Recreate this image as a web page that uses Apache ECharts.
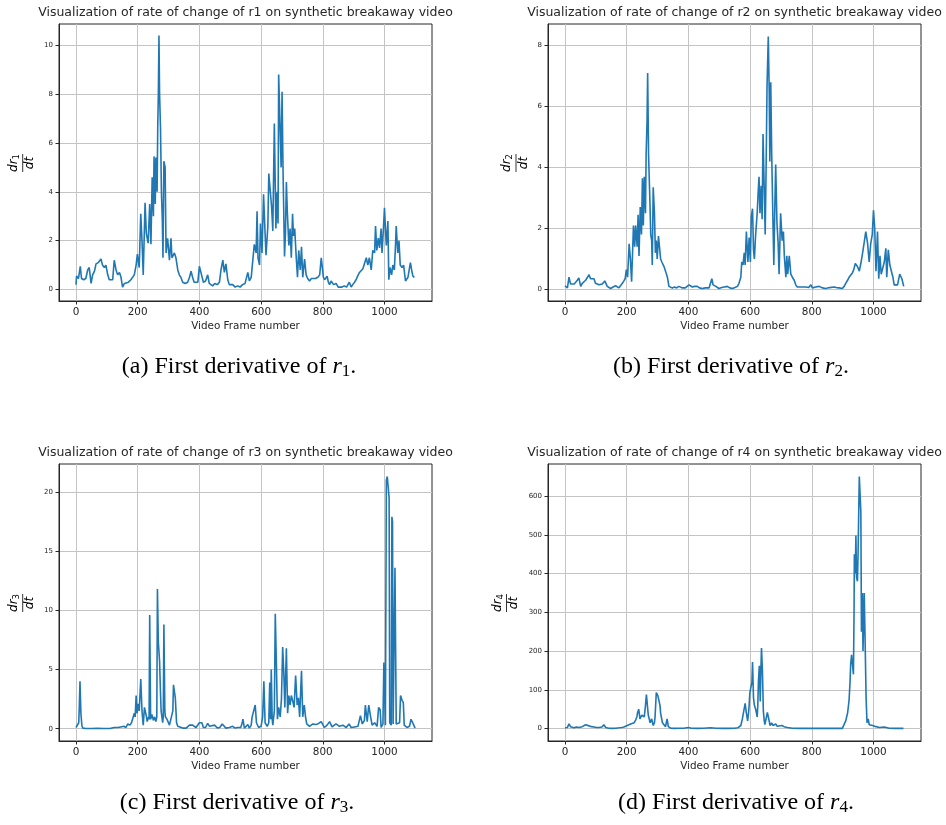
<!DOCTYPE html>
<html>
<head>
<meta charset="utf-8">
<script src="https://cdn.jsdelivr.net/npm/echarts@6/dist/echarts.min.js"></script>
<style>
  html, body { margin: 0; padding: 0; background: #fff; }
  #chart { width: 946px; height: 825px; }
</style>
</head>
<body>
<div id="chart"></div>
<script>
// tick labels
const xTicks = [0, 200, 400, 600, 800, 1000]
const r1Ticks = [0, 2, 4, 6, 8, 10]
const r2Ticks = [0, 2, 4, 6, 8]
const r3Ticks = [0, 5, 10, 15, 20]
const r4Ticks = [0, 100, 200, 300, 400, 500, 600]

// dr1/dt
const r1Frames = [
  0, 2, 8, 12, 14, 18, 25, 32, 38, 43,
  49, 54, 60, 65, 72, 81, 86, 92, 97, 103,
  108, 114, 119, 124, 130, 135, 141, 146, 151, 157,
  162, 170, 178, 184, 189, 195, 199, 205, 210, 214,
  218, 224, 228, 234, 239, 243, 247, 251, 253, 257,
  259, 263, 265, 267, 269, 271, 274, 277, 280, 282,
  285, 289, 292, 297, 303, 308, 311, 315, 319, 324,
  330, 335, 340, 346, 354, 362, 368, 373, 378, 383,
  389, 395, 400, 405, 413, 420, 427, 432, 438, 443,
  450, 458, 465, 470, 476, 481, 486, 492, 497, 503,
  508, 516, 524, 532, 540, 548, 553, 557, 562, 568,
  573, 578, 584, 587, 590, 595, 598, 603, 608, 613,
  616, 622, 625, 630, 634, 638, 643, 648, 652, 655,
  657, 662, 665, 668, 671, 676, 679, 682, 685, 690,
  694, 698, 702, 705, 709, 714, 718, 722, 727, 731,
  735, 741, 746, 751, 757, 763, 768, 776, 784, 790,
  795, 802, 806, 811, 814, 818, 822, 827, 835, 843,
  850, 856, 862, 870, 877, 886, 892, 897, 903, 908,
  913, 919, 925, 930, 936, 941, 946, 951, 957, 962,
  968, 971, 975, 980, 984, 989, 992, 997, 1000, 1003,
  1006, 1011, 1014, 1018, 1023, 1027, 1032, 1036, 1038, 1043,
  1047, 1051, 1057, 1062, 1068, 1076, 1084, 1088, 1092, 1097
]
const r1Values = [
  0.2, 0.55, 0.45, 0.5, 0.95, 0.45, 0.4, 0.45, 0.8, 0.9,
  0.25, 0.6, 0.75, 1.05, 1.1, 1.25, 1.0, 0.9, 1.0, 0.6,
  0.4, 0.35, 0.4, 1.2, 0.8, 0.6, 0.7, 0.5, 0.1, 0.25,
  0.2, 0.3, 0.4, 0.45, 0.6, 1.0, 1.45, 0.9, 3.1, 2.0,
  0.6, 3.55, 2.3, 1.9, 3.5, 1.85, 4.6, 3.0, 5.45, 3.5,
  5.4, 4.0, 6.6, 8.0, 10.4, 8.0, 6.6, 4.0, 2.8, 1.3,
  5.25, 5.0, 1.5, 2.1, 1.2, 2.1, 1.3, 1.4, 1.5, 1.3,
  0.8, 0.6, 0.5, 0.3, 0.25, 0.3, 0.5, 0.75, 0.5, 0.3,
  0.25, 0.3, 0.95, 0.7, 0.3, 0.35, 0.6, 0.25, 0.2, 0.15,
  0.25, 0.2, 0.3, 0.8, 1.2, 0.7, 1.05, 0.4, 0.2, 0.15,
  0.2, 0.1, 0.15, 0.1, 0.2, 0.25, 0.3, 0.7, 0.35, 0.5,
  0.45, 1.85, 1.5, 3.2, 1.3, 1.0, 2.7, 1.5, 3.9, 2.3,
  1.4, 2.6, 4.75, 4.75, 3.4, 2.4, 6.8, 2.5, 4.0, 2.7,
  8.8, 8.8, 5.0, 8.1, 5.0, 1.35, 2.3, 4.4, 3.2, 1.8,
  2.5, 1.3, 3.1, 2.2, 2.5, 1.3, 0.5, 1.6, 0.8, 1.75,
  0.5, 1.25, 0.6, 0.45, 0.35, 0.45, 0.5, 0.45, 0.5, 0.6,
  1.3, 0.5, 0.4, 0.35, 0.55, 0.3, 0.2, 0.35, 0.2, 0.25,
  0.1, 0.15, 0.1, 0.15, 0.1, 0.3, 0.1, 0.2, 0.3, 0.4,
  0.55, 0.7, 0.75, 0.85, 0.9, 1.3, 1.0, 1.3, 0.8, 1.6,
  1.5, 2.6, 1.6, 2.1, 1.7, 2.5, 1.5, 2.6, 3.35, 2.5,
  1.8, 2.8, 0.4, 0.9, 0.6, 1.0, 0.8, 1.9, 2.6, 1.5,
  2.0, 1.0, 0.9, 1.0, 0.35, 0.5, 1.1, 0.8, 0.55, 0.5
]

// dr2/dt
const r2Frames = [
  0, 2, 8, 13, 18, 24, 30, 35, 40, 45,
  51, 56, 62, 67, 72, 78, 83, 89, 94, 99,
  105, 110, 116, 121, 129, 137, 142, 148, 156, 164,
  170, 175, 180, 186, 191, 195, 199, 203, 208, 212,
  216, 222, 226, 229, 234, 237, 240, 244, 248, 251,
  254, 257, 261, 263, 266, 268, 271, 275, 278, 281,
  283, 286, 290, 293, 296, 299, 303, 307, 310, 314,
  321, 326, 332, 337, 342, 348, 355, 362, 369, 375,
  381, 390, 396, 402, 408, 413, 420, 429, 436, 445,
  455, 467, 472, 476, 480, 485, 489, 494, 499, 508,
  517, 526, 534, 543, 551, 559, 564, 570, 573, 577,
  581, 584, 588, 593, 597, 601, 604, 608, 611, 614,
  618, 623, 626, 629, 632, 636, 639, 642, 645, 649,
  652, 655, 659, 662, 664, 667, 670, 674, 677, 680,
  683, 687, 691, 694, 699, 704, 708, 711, 716, 719,
  722, 727, 732, 737, 743, 748, 753, 759, 770, 781,
  790, 797, 802, 813, 824, 835, 845, 858, 872, 880,
  889, 899, 905, 910, 916, 921, 927, 932, 936, 941,
  948, 954, 959, 964, 970, 975, 981, 986, 991, 996,
  1000, 1004, 1008, 1013, 1017, 1021, 1025, 1030, 1035, 1040,
  1043, 1048, 1053, 1059, 1063, 1067, 1073, 1078, 1085, 1092, 1098
]
const r2Values = [
  0.12, 0.1, 0.05, 0.4, 0.18, 0.2, 0.18, 0.2, 0.3, 0.38,
  0.1, 0.2, 0.22, 0.3, 0.35, 0.48, 0.35, 0.3, 0.35, 0.2,
  0.15, 0.15, 0.2, 0.18, 0.28, 0.1, 0.05, 0.03, 0.08, 0.12,
  0.08, 0.05, 0.12, 0.2, 0.28, 0.35, 0.65, 0.4, 1.5, 1.0,
  0.25, 2.1, 1.4, 2.1, 1.4, 2.45, 1.1, 2.7, 1.8, 3.65,
  2.1, 3.7, 2.5, 4.4, 5.5, 7.1, 4.4, 3.0, 1.8, 1.6,
  0.8, 3.35, 2.5, 1.2, 1.6, 1.0, 1.75, 1.75, 1.0, 0.9,
  0.75, 0.6, 0.4, 0.1, 0.05, 0.05, 0.08, 0.05, 0.1, 0.15,
  0.05, 0.05, 0.1, 0.15, 0.12, 0.08, 0.1, 0.1, 0.05, 0.03,
  0.05, 0.05, 0.1, 0.35, 0.15, 0.12, 0.1, 0.05, 0.03, 0.06,
  0.08, 0.1, 0.05, 0.03, 0.06, 0.1, 0.2, 0.4, 0.9, 0.8,
  1.2, 0.8, 1.9, 0.9, 1.7, 0.9, 2.4, 2.65, 1.3, 1.0,
  1.8, 2.5, 3.15, 3.7, 2.5, 3.4, 2.3, 5.1, 5.15, 1.8,
  4.0, 6.7, 8.3, 6.5, 4.2, 6.8, 4.5, 2.3, 0.8, 2.6,
  4.1, 2.2, 1.5, 0.5, 2.5, 1.6, 1.9, 1.1, 0.4, 1.1,
  0.5, 1.1, 0.5, 0.4, 0.3, 0.15, 0.08, 0.05, 0.08, 0.08,
  0.06, 0.15, 0.05, 0.08, 0.1, 0.05, 0.03, 0.06, 0.08, 0.06,
  0.05, 0.03, 0.1, 0.2, 0.3, 0.4, 0.45, 0.55, 0.65, 0.85,
  0.75, 0.6, 0.85, 1.15, 1.55, 1.9, 1.5, 0.9, 1.5, 1.8,
  2.6, 2.0, 0.6, 1.9, 0.35, 1.1, 0.5, 0.5, 0.9, 1.35,
  0.4, 1.3, 0.8, 0.8, 0.4, 0.15, 0.15, 0.15, 0.5, 0.35, 0.1
]

// dr3/dt
const r3Frames = [
  0, 6, 9, 11, 13, 16, 19, 22, 32, 50,
  70, 90, 110, 124, 135, 145, 155, 162, 168, 175,
  180, 184, 189, 192, 195, 198, 201, 205, 210, 214,
  218, 222, 227, 231, 235, 237, 239, 242, 246, 251,
  255, 259, 262, 264, 267, 271, 274, 276, 281, 283,
  285, 288, 290, 295, 303, 309, 314, 316, 319, 322,
  326, 330, 335, 346, 357, 368, 378, 389, 395, 400,
  408, 413, 420, 427, 433, 438, 449, 459, 466, 474,
  486, 497, 508, 516, 524, 534, 539, 541, 546, 557,
  562, 568, 571, 576, 581, 585, 592, 600, 605, 609,
  613, 620, 625, 628, 631, 633, 636, 638, 643, 646,
  650, 653, 657, 662, 666, 670, 674, 677, 682, 686,
  690, 694, 698, 703, 707, 712, 717, 721, 725, 731,
  735, 740, 744, 748, 757, 768, 776, 784, 795, 800,
  805, 814, 822, 830, 843, 854, 865, 876, 885, 892,
  903, 914, 922, 928, 935, 938, 944, 949, 955, 960,
  968, 976, 981, 986, 989, 995, 998, 1001, 1003, 1006,
  1009, 1013, 1015, 1017, 1022, 1024, 1026, 1028, 1032, 1034,
  1036, 1038, 1043, 1049, 1052, 1057, 1061, 1064, 1073, 1081,
  1086, 1090, 1095, 1099
]
const r3Values = [
  0.1, 0.1, 0.5, 2.0, 4.0, 1.3, 0.3, 0.05, 0.02, 0.02,
  0.03, 0.02, 0.02, 0.1, 0.1, 0.15, 0.2, 0.1, 0.4, 0.3,
  0.5, 0.5, 1.3, 1.0, 2.8, 1.3, 2.1, 1.5, 4.2, 1.5,
  0.3, 1.8, 1.2, 0.6, 1.0, 0.8, 9.6, 0.8, 1.2, 0.7,
  1.0, 0.6, 1.0, 11.8, 7.3, 5.7, 3.0, 1.5, 0.5, 1.0,
  8.8, 1.5, 1.0, 0.8, 0.3, 0.2, 1.5, 3.7, 3.8, 2.6,
  0.5, 0.2, 0.1, 0.05, 0.05, 0.3, 0.3, 0.1, 0.2, 0.5,
  0.5, 0.1, 0.1, 0.45, 0.2, 0.05, 0.3, 0.05, 0.1, 0.4,
  0.05, 0.1, 0.2, 0.05, 0.1, 0.1, 0.5, 0.8, 0.05, 0.35,
  0.05, 0.3, 1.0, 1.5, 2.0, 0.5, 0.1, 0.2, 1.0, 4.0,
  0.5, 0.2, 0.5, 3.9, 0.8, 5.0, 0.8, 0.3, 1.5, 9.7,
  5.0, 0.8, 1.8, 1.0, 2.5, 6.9, 4.5, 1.8, 6.8, 1.3,
  2.8, 2.0, 2.8, 2.3, 1.8, 4.5, 2.0, 2.6, 1.0, 4.9,
  1.0, 2.0, 1.0, 0.4, 0.2, 0.4, 0.35, 0.4, 0.6, 0.6,
  0.1, 0.3, 0.6, 0.15, 0.4, 0.2, 0.3, 0.1, 0.4, 0.1,
  0.15, 0.2, 1.1, 0.4, 0.7, 2.0, 0.6, 2.0, 1.0, 0.3,
  0.5, 0.2, 1.8, 1.6, 0.1, 0.4, 5.6, 5.5, 0.3, 21.0,
  21.3, 21.2, 19.5, 0.5, 0.3, 17.9, 17.5, 0.4, 0.5, 13.6,
  13.5, 0.4, 0.3, 0.5, 2.8, 2.4, 2.2, 0.3, 0.1, 0.2,
  0.8, 0.8, 0.3, 0.05
]

// dr4/dt
const r4Frames = [
  0, 8, 13, 18, 24, 29, 37, 45, 56, 62,
  67, 72, 78, 86, 94, 102, 110, 120, 126, 132,
  142, 154, 165, 175, 184, 191, 197, 202, 208, 213,
  218, 224, 229, 233, 235, 239, 243, 246, 249, 252,
  254, 257, 261, 264, 267, 270, 273, 276, 281, 284,
  286, 290, 292, 296, 299, 301, 305, 308, 310, 316,
  321, 326, 331, 335, 343, 355, 370, 385, 400, 410,
  430, 450, 472, 490, 510, 530, 550, 560, 564, 570,
  575, 579, 581, 584, 588, 592, 595, 597, 599, 601,
  604, 606, 608, 611, 614, 618, 620, 623, 625, 627,
  630, 633, 635, 637, 640, 643, 646, 648, 653, 656,
  661, 665, 670, 674, 678, 683, 688, 694, 703, 710,
  721, 737, 760, 800, 850, 899, 905, 910, 913, 916,
  919, 921, 924, 926, 929, 932, 935, 937, 938, 941,
  943, 945, 948, 950, 952, 954, 957, 959, 961, 964,
  966, 970, 973, 976, 979, 983, 986, 991, 997, 1008,
  1020, 1035, 1040, 1051, 1070, 1097
]
const r4Values = [
  2, 3, 12, 5, 3, 2, 4, 3, 5, 6,
  10, 9, 7, 5, 4, 3, 3, 4, 10, 3,
  1, 0.5, 1, 2, 3, 4, 6, 8, 10, 12,
  10, 15, 22, 30, 40, 50, 25, 28, 35, 32,
  40, 30, 60, 88, 90, 35, 25, 15, 25, 15,
  8, 15, 30, 93, 88, 85, 82, 60, 40, 15,
  12, 5, 25, 5, 1, 0.5, 1, 1, 3, 1,
  0.5, 1, 2, 1, 0.5, 0.5, 1, 2, 3, 8,
  25, 28, 30, 65, 40, 20, 40, 60, 90, 100,
  95, 120, 172, 80, 60, 50, 45, 30, 60, 120,
  162, 70, 150, 208, 150, 45, 20, 10, 12, 42,
  40, 8, 15, 8, 5, 12, 6, 5, 8, 5,
  3, 1, 0.5, 0.5, 0.5, 0.5, 5, 20, 30, 40,
  60, 75, 120, 165, 190, 195, 140, 300, 450, 400,
  498, 390, 380, 450, 550, 650, 650, 560, 250, 350,
  200, 350, 220, 80, 15, 25, 10, 15, 8, 5,
  3, 4, 6, 1, 0.5, 0.5
]

const SANS = 'DejaVu Sans'
const SERIF = 'Liberation Serif'
const INK = '#262626'
const BLUE = '#1f77b4'

const chart = echarts.init(document.getElementById('chart'), null, { renderer: 'canvas' })

// 4 panels: grid box in px, y range, ticks
const panels = [
  { left: 59, top: 24, ymin: -0.47, ymax: 10.87, ticks: r1Ticks, frames: r1Frames, values: r1Values, n: 1 },
  { left: 548, top: 24, ymin: -0.38, ymax: 8.71, ticks: r2Ticks, frames: r2Frames, values: r2Values, n: 2 },
  { left: 59, top: 464, ymin: -1.04, ymax: 22.36, ticks: r3Ticks, frames: r3Frames, values: r3Values, n: 3 },
  { left: 548, top: 464, ymin: -32, ymax: 682.5, ticks: r4Ticks, frames: r4Frames, values: r4Values, n: 4 }
]
const W = 373
const H = 277

const zip = (xs, ys) => xs.map((x, i) => [x, ys[i]])
const plain = v => String(v) // no thousands separator (matplotlib shows 1000)

// y label like matplotlib's $\frac{dr_n}{dt}$, rotated
function yLabel (cx, cy, n) {
  return {
    type: 'group',
    x: cx,
    y: cy,
    rotation: Math.PI / 2,
    children: [
      {
        type: 'text',
        x: 0,
        y: -1.5,
        style: {
          text: '{i|dr}{s|' + n + '}',
          align: 'center',
          verticalAlign: 'bottom',
          rich: {
            i: { fontFamily: SANS, fontStyle: 'italic', fontSize: 12, lineHeight: 15, fill: '#000' },
            s: { fontFamily: SANS, fontSize: 8.5, verticalAlign: 'bottom', fill: '#000' }
          }
        }
      },
      {
        type: 'line',
        shape: { x1: -9, y1: 0, x2: 9, y2: 0 },
        style: { stroke: '#000', lineWidth: 0.8 }
      },
      {
        type: 'text',
        x: 0,
        y: 1.5,
        style: {
          text: 'dt',
          align: 'center',
          verticalAlign: 'top',
          fontFamily: SANS,
          fontStyle: 'italic',
          fontSize: 12,
          fill: '#000'
        }
      }
    ]
  }
}

// subfigure caption, e.g. (a) First derivative of r_1.
function caption (cx, cy, letter, n) {
  return {
    type: 'text',
    x: cx,
    y: cy,
    style: {
      text: '{t|(' + letter + ') First derivative of }{i|r}{s|' + n + '}{t|.}',
      align: 'center',
      verticalAlign: 'middle',
      rich: {
        t: { fontFamily: SERIF, fontSize: 24, lineHeight: 27, fill: '#000' },
        i: { fontFamily: SERIF, fontStyle: 'italic', fontSize: 24, lineHeight: 27, fill: '#000' },
        s: { fontFamily: SERIF, fontSize: 17, verticalAlign: 'bottom', fill: '#000' }
      }
    }
  }
}

const option = {
  animation: false,
  backgroundColor: '#fff',
  title: panels.map(p => ({
    text: 'Visualization of rate of change of r' + p.n + ' on synthetic breakaway video',
    left: p.left + W / 2,
    top: p.top - 18,
    textAlign: 'center',
    padding: 0,
    textStyle: { fontFamily: SANS, fontSize: 12.5, fontWeight: 'normal', color: INK }
  })),
  grid: panels.map(p => ({
    left: p.left,
    top: p.top,
    width: W,
    height: H,
    show: true,
    borderColor: INK,
    borderWidth: 1,
    backgroundColor: 'transparent'
  })),
  xAxis: panels.map((p, i) => ({
    type: 'value',
    gridIndex: i,
    min: -55,
    max: 1154,
    name: 'Video Frame number',
    nameLocation: 'middle',
    nameGap: 20,
    nameTextStyle: { fontFamily: SANS, fontSize: 10.4, color: INK },
    axisLine: { show: true, onZero: false, lineStyle: { color: INK, width: 1 } },
    axisTick: { show: true, length: 3.5, customValues: xTicks, lineStyle: { color: INK } },
    axisLabel: { customValues: xTicks, formatter: plain, fontFamily: SANS, fontSize: 10.4, color: INK, margin: 6 },
    splitLine: { show: true, lineStyle: { color: '#c4c4c4', width: 1 } }
  })),
  yAxis: panels.map((p, i) => ({
    type: 'value',
    gridIndex: i,
    min: p.ymin,
    max: p.ymax,
    axisLine: { show: true, onZero: false, lineStyle: { color: INK, width: 1 } },
    axisTick: { show: true, length: 3.5, customValues: p.ticks, lineStyle: { color: INK } },
    axisLabel: { customValues: p.ticks, formatter: plain, fontFamily: SANS, fontSize: 7, color: INK, margin: 6 },
    splitLine: { show: true, lineStyle: { color: '#c4c4c4', width: 1 } }
  })),
  series: panels.map((p, i) => ({
    type: 'line',
    xAxisIndex: i,
    yAxisIndex: i,
    data: zip(p.frames, p.values),
    showSymbol: false,
    symbol: 'none',
    lineStyle: { color: BLUE, width: 1.6 },
    clip: true
  })),
  graphic: [
    yLabel(22.7, 163, 1),
    yLabel(516, 163, 2),
    yLabel(22.7, 603, 3),
    yLabel(506.5, 603, 4),
    caption(239, 367, 'a', 1),
    caption(731, 367, 'b', 2),
    caption(237, 803, 'c', 3),
    caption(736, 803, 'd', 4)
  ]
}

chart.setOption(option)
</script>
</body>
</html>
